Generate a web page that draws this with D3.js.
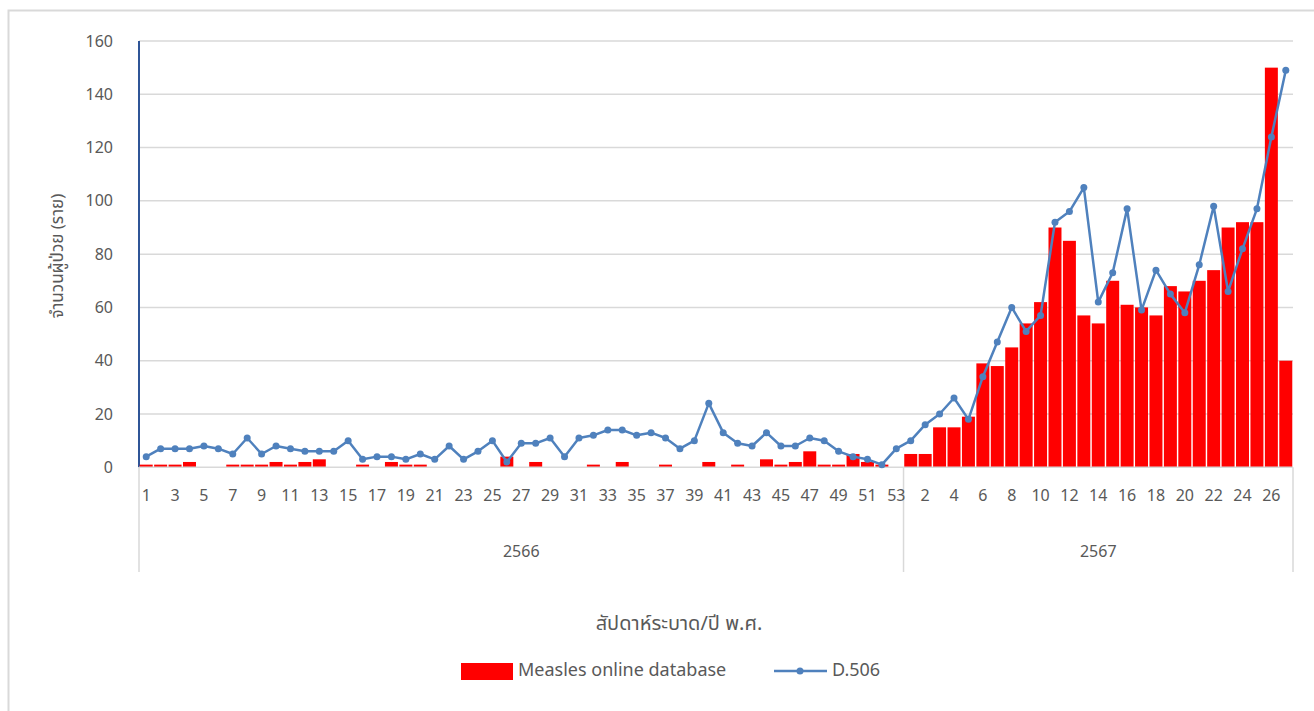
<!DOCTYPE html>
<html>
<head>
<meta charset="utf-8">
<script src="https://cdn.jsdelivr.net/npm/d3@7"></script>
<style>
  body { margin: 0; background: #fff; }
  svg text { font-family: "Noto Sans", "Noto Sans Thai", "Leelawadee UI", sans-serif; fill: #595959; }
</style>
</head>
<body>
<div id="chart"></div>
<script>
// week numbers per year (epidemiological week)
const weeks2566 = [1,2,3,4,5,6,7,8,9,10,11,12,13,14,15,16,17,18,19,20,21,22,23,24,25,26,27,
  28,29,30,31,32,33,34,35,36,37,38,39,40,41,42,43,44,45,46,47,48,49,50,51,52,53];
const weeks2567 = [1,2,3,4,5,6,7,8,9,10,11,12,13,14,15,16,17,18,19,20,21,22,23,24,25,26,27];

// Measles online database (bars)
const measles2566 = [1,1,1,2,0,0,1,1,1,2,1,2,3,0,0,1,0,2,1,1,0,0,0,0,0,4,0,
  2,0,0,0,1,0,2,0,0,1,0,0,2,0,1,0,3,1,2,6,1,1,5,2,1,0];
const measles2567 = [5,5,15,15,19,39,38,45,54,62,90,85,57,54,70,61,60,57,68,66,70,74,90,92,92,150,40];

// D.506 (line)
const d506_2566 = [4,7,7,7,8,7,5,11,5,8,7,6,6,6,10,3,4,4,3,5,3,8,3,6,10,2,9,
  9,11,4,11,12,14,14,12,13,11,7,10,24,13,9,8,13,8,8,11,10,6,4,3,1,7];
const d506_2567 = [10,16,20,26,18,34,47,60,51,57,92,96,105,62,73,97,59,74,65,58,76,98,66,82,97,124,149];

const years = ['2566', '2567'];
const yTicks = [0, 20, 40, 60, 80, 100, 120, 140, 160];

const rows = [];
weeks2566.forEach((w, i) => rows.push({year: '2566', week: w, bar: measles2566[i], line: d506_2566[i]}));
weeks2567.forEach((w, i) => rows.push({year: '2567', week: w, bar: measles2567[i], line: d506_2567[i]}));
rows.forEach(d => d.key = d.year + '-' + d.week);

const W = 1314, H = 711;
const plotLeft = 139, plotRight = 1293, plotTop = 41, plotBottom = 467.3;
const grey = '#d9d9d9';

const svg = d3.select('#chart').append('svg')
  .attr('width', W).attr('height', H);

// chart area border (left + top only are visible)
svg.append('path')
  .attr('d', `M8.5,${H} V10.5 H${W}`)
  .attr('fill', 'none').attr('stroke', grey).attr('stroke-width', 2);

const x = d3.scaleBand()
  .domain(rows.map(d => d.key))
  .range([plotLeft, plotRight])
  .paddingInner(0.1).paddingOuter(0.05);

const xc = d3.scaleBand().domain(rows.map(d => d.key)).range([plotLeft, plotRight]);

const y = d3.scaleLinear().domain([0, 160]).range([plotBottom, plotTop]);

// gridlines
svg.append('g')
  .selectAll('line')
  .data(yTicks.filter(t => t > 0))
  .join('line')
  .attr('x1', plotLeft).attr('x2', plotRight)
  .attr('y1', d => y(d)).attr('y2', d => y(d))
  .attr('stroke', grey).attr('stroke-width', 1.5);

// y axis labels
const yAxis = svg.append('g')
  .attr('transform', `translate(${plotLeft},0)`)
  .call(d3.axisLeft(y).tickValues(yTicks).tickSize(0).tickPadding(26));
yAxis.select('.domain').remove();
yAxis.selectAll('text').style('font-size', '16px').attr('fill', '#595959');

// y axis line (dark blue)
svg.append('line')
  .attr('x1', plotLeft).attr('x2', plotLeft).attr('y1', plotTop).attr('y2', plotBottom)
  .attr('stroke', '#2f5597').attr('stroke-width', 2);

// y axis title
svg.append('text')
  .attr('transform', `translate(63,${(plotTop + plotBottom) / 2 + 2}) rotate(-90)`)
  .attr('text-anchor', 'middle')
  .style('font-size', '17px')
  .text('จำนวนผู้ป่วย (ราย)');

// bars
svg.append('g')
  .selectAll('rect')
  .data(rows.filter(d => d.bar > 0))
  .join('rect')
  .attr('x', d => x(d.key))
  .attr('y', d => y(d.bar))
  .attr('width', x.bandwidth())
  .attr('height', d => y(0) - y(d.bar))
  .attr('fill', '#ff0000');

// x axis baseline
svg.append('line')
  .attr('x1', plotLeft).attr('x2', plotRight).attr('y1', plotBottom).attr('y2', plotBottom)
  .attr('stroke', grey).attr('stroke-width', 1.5);

// category separators
const sepX = [plotLeft, xc(rows[weeks2566.length].key), plotRight];
svg.append('g')
  .selectAll('line')
  .data(sepX)
  .join('line')
  .attr('x1', d => d).attr('x2', d => d)
  .attr('y1', plotBottom).attr('y2', 572)
  .attr('stroke', grey).attr('stroke-width', 1.5);

// week tick labels (every other category)
const xAxis = svg.append('g')
  .attr('transform', `translate(0,${plotBottom})`)
  .call(d3.axisBottom(xc)
    .tickValues(rows.filter((d, i) => i % 2 === 0).map(d => d.key))
    .tickFormat(k => k.split('-')[1])
    .tickSize(0).tickPadding(22));
xAxis.select('.domain').remove();
xAxis.selectAll('text').style('font-size', '16px').attr('fill', '#595959');

// year labels
svg.append('g')
  .selectAll('text')
  .data(years)
  .join('text')
  .attr('x', (yr, i) => (sepX[i] + sepX[i + 1]) / 2)
  .attr('y', 557)
  .attr('text-anchor', 'middle')
  .style('font-size', '16px')
  .text(d => d);

// x axis title
svg.append('text')
  .attr('x', 679).attr('y', 630)
  .attr('text-anchor', 'middle')
  .style('font-size', '20px')
  .text('สัปดาห์ระบาด/ปี พ.ศ.');

// D.506 line
const lineGen = d3.line()
  .x(d => xc(d.key) + xc.bandwidth() / 2)
  .y(d => y(d.line));

svg.append('path')
  .datum(rows)
  .attr('d', lineGen)
  .attr('fill', 'none')
  .attr('stroke', '#4f81bd')
  .attr('stroke-width', 2.5)
  .attr('stroke-linejoin', 'round');

svg.append('g')
  .selectAll('circle')
  .data(rows)
  .join('circle')
  .attr('cx', d => xc(d.key) + xc.bandwidth() / 2)
  .attr('cy', d => y(d.line))
  .attr('r', 3.5)
  .attr('fill', '#4f81bd');

// legend
const legend = svg.append('g');
legend.append('rect')
  .attr('x', 461).attr('y', 663).attr('width', 52).attr('height', 17)
  .attr('fill', '#ff0000');
legend.append('text')
  .attr('x', 518).attr('y', 676)
  .style('font-size', '18px')
  .text('Measles online database');
legend.append('line')
  .attr('x1', 774).attr('x2', 827).attr('y1', 671).attr('y2', 671)
  .attr('stroke', '#4f81bd').attr('stroke-width', 2.5);
legend.append('circle')
  .attr('cx', 800).attr('cy', 671).attr('r', 3.5)
  .attr('fill', '#4f81bd');
legend.append('text')
  .attr('x', 832).attr('y', 676)
  .style('font-size', '18px')
  .text('D.506');
</script>
</body>
</html>
